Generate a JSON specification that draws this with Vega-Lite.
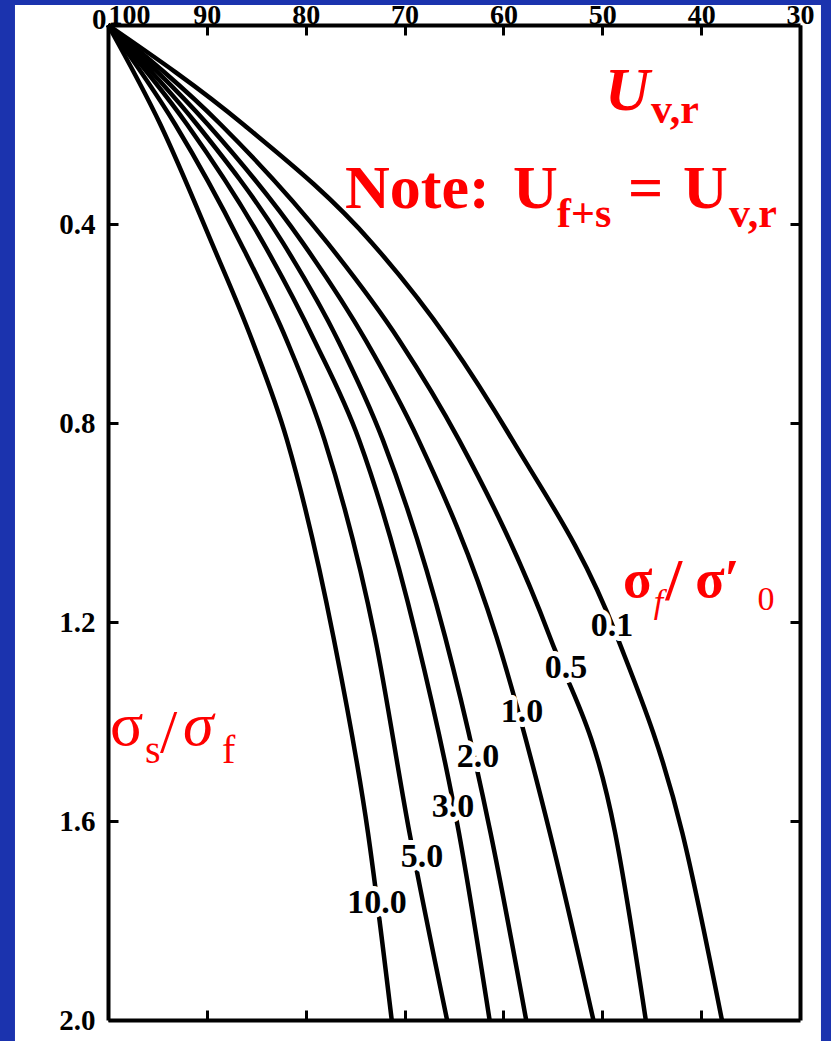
{
  "$schema": "https://vega.github.io/schema/vega-lite/v6.json",
  "width": 692,
  "height": 995,
  "autosize": {"type": "none"},
  "padding": {"left": 108, "top": 25, "right": 31, "bottom": 21},
  "background": "#1B33AE",
  "config": {
    "view": {"stroke": null},
    "text": {"font": "Liberation Serif"},
    "axis": {
      "labelFont": "Liberation Serif",
      "labelFontWeight": "bold",
      "labelColor": "black",
      "domainColor": "black",
      "domainWidth": 4,
      "tickColor": "black",
      "tickWidth": 3,
      "tickSize": -10,
      "grid": false,
      "labelFlush": false,
      "labelOverlap": false
    }
  },
  "data": {"values": [{}]},
  "datasets": {
    "curves": [
      {"curve": "10.0", "r": 0, "u": 100}, {"curve": "10.0", "r": 0.2, "u": 94.7}, {"curve": "10.0", "r": 0.438, "u": 89.5}, {"curve": "10.0", "r": 0.635, "u": 85.4}, {"curve": "10.0", "r": 0.834, "u": 81.9}, {"curve": "10.0", "r": 1.23, "u": 77.2}, {"curve": "10.0", "r": 1.624, "u": 73.7}, {"curve": "10.0", "r": 2.0, "u": 71.3},
      {"curve": "5.0", "r": 0, "u": 100}, {"curve": "5.0", "r": 0.2, "u": 93.2}, {"curve": "5.0", "r": 0.438, "u": 86.6}, {"curve": "5.0", "r": 0.635, "u": 81.9}, {"curve": "5.0", "r": 0.834, "u": 78.1}, {"curve": "5.0", "r": 1.23, "u": 73.0}, {"curve": "5.0", "r": 1.624, "u": 69.5}, {"curve": "5.0", "r": 2.0, "u": 65.7},
      {"curve": "3.0", "r": 0, "u": 100}, {"curve": "3.0", "r": 0.2, "u": 92.0}, {"curve": "3.0", "r": 0.438, "u": 84.3}, {"curve": "3.0", "r": 0.635, "u": 79.1}, {"curve": "3.0", "r": 0.834, "u": 74.6}, {"curve": "3.0", "r": 1.23, "u": 68.8}, {"curve": "3.0", "r": 1.624, "u": 64.5}, {"curve": "3.0", "r": 2.0, "u": 61.4},
      {"curve": "2.0", "r": 0, "u": 100}, {"curve": "2.0", "r": 0.2, "u": 91.0}, {"curve": "2.0", "r": 0.438, "u": 82.3}, {"curve": "2.0", "r": 0.635, "u": 76.7}, {"curve": "2.0", "r": 0.834, "u": 72.2}, {"curve": "2.0", "r": 1.23, "u": 65.9}, {"curve": "2.0", "r": 1.624, "u": 61.3}, {"curve": "2.0", "r": 2.0, "u": 57.7},
      {"curve": "1.0", "r": 0, "u": 100}, {"curve": "1.0", "r": 0.2, "u": 89.9}, {"curve": "1.0", "r": 0.438, "u": 80.3}, {"curve": "1.0", "r": 0.635, "u": 73.9}, {"curve": "1.0", "r": 0.834, "u": 68.6}, {"curve": "1.0", "r": 1.23, "u": 60.7}, {"curve": "1.0", "r": 1.624, "u": 55.3}, {"curve": "1.0", "r": 2.0, "u": 50.9},
      {"curve": "0.5", "r": 0, "u": 100}, {"curve": "0.5", "r": 0.2, "u": 88.6}, {"curve": "0.5", "r": 0.438, "u": 77.8}, {"curve": "0.5", "r": 0.635, "u": 70.5}, {"curve": "0.5", "r": 0.834, "u": 64.5}, {"curve": "0.5", "r": 1.23, "u": 55.3}, {"curve": "0.5", "r": 1.624, "u": 48.7}, {"curve": "0.5", "r": 2.0, "u": 45.6},
      {"curve": "0.1", "r": 0, "u": 100}, {"curve": "0.1", "r": 0.2, "u": 86.3}, {"curve": "0.1", "r": 0.438, "u": 73.3}, {"curve": "0.1", "r": 0.635, "u": 65.5}, {"curve": "0.1", "r": 0.834, "u": 59.1}, {"curve": "0.1", "r": 1.23, "u": 48.5}, {"curve": "0.1", "r": 1.624, "u": 41.9}, {"curve": "0.1", "r": 2.0, "u": 37.9}
    ],
    "labels": [
      {"curve": "0.1", "u": 49.02, "r": 1.208},
      {"curve": "0.5", "u": 53.67, "r": 1.292},
      {"curve": "1.0", "u": 58.12, "r": 1.381},
      {"curve": "2.0", "u": 62.57, "r": 1.471},
      {"curve": "3.0", "u": 65.1, "r": 1.572},
      {"curve": "5.0", "u": 68.24, "r": 1.672},
      {"curve": "10.0", "u": 72.79, "r": 1.765}
    ]
  },
  "layer": [
    {
      "mark": {"type": "rect", "color": "white"},
      "encoding": {
        "x": {"datum": 109.41, "type": "quantitative", "axis": null},
        "x2": {"datum": 27.88},
        "y": {"datum": -0.0402, "type": "quantitative", "axis": null},
        "y2": {"datum": 2.06}
      }
    },
    {
      "data": {"name": "curves"},
      "mark": {"type": "line", "color": "black", "strokeWidth": 4.5, "interpolate": "monotone"},
      "encoding": {
        "x": {
          "field": "u", "type": "quantitative",
          "scale": {"domain": [30, 100], "reverse": true, "nice": false, "zero": false},
          "axis": {
            "orient": "top", "zindex": 2, "values": [100, 90, 80, 70, 60, 50, 40, 30], "format": "d",
            "labelFontSize": 28, "labelBaseline": "alphabetic", "labelPadding": 12, "title": null,
            "labelAlign": {"condition": {"test": "datum.value === 100", "value": "left"}, "value": "center"}
          }
        },
        "y": {
          "field": "r", "type": "quantitative",
          "scale": {"domain": [0, 2], "reverse": true, "nice": false, "zero": false},
          "axis": {
            "orient": "left", "zindex": 2, "values": [0, 0.4, 0.8, 1.2, 1.6, 2],
            "labelExpr": "datum.value == 0 ? '0' : format(datum.value, '.1f')",
            "labelFontSize": 29, "title": null,
            "labelPadding": {"condition": {"test": "datum.value === 0", "value": 12}, "value": 23},
            "labelOffset": {"condition": {"test": "datum.value === 0", "value": -6}, "value": 0}
          }
        },
        "detail": {"field": "curve"},
        "order": {"field": "r", "type": "quantitative"}
      }
    },
    {
      "data": {"name": "labels"},
      "mark": {"type": "text", "font": "Liberation Serif", "fontWeight": "bold", "fontSize": 34, "fill": "white", "stroke": "white", "strokeWidth": 10, "strokeJoin": "round"},
      "encoding": {
        "x": {"field": "u", "type": "quantitative", "axis": {"orient": "bottom", "zindex": 2, "values": [90, 80, 70, 60, 50, 40], "labels": false, "title": null}},
        "y": {"field": "r", "type": "quantitative", "axis": {"orient": "right", "zindex": 2, "values": [0.4, 0.8, 1.2, 1.6], "labels": false, "title": null}},
        "text": {"field": "curve"}
      }
    },
    {
      "data": {"name": "labels"},
      "mark": {"type": "text", "font": "Liberation Serif", "fontWeight": "bold", "fontSize": 34, "color": "black"},
      "encoding": {
        "x": {"field": "u", "type": "quantitative", "axis": null},
        "y": {"field": "r", "type": "quantitative", "axis": null},
        "text": {"field": "curve"}
      }
    },
    {
      "mark": {"type": "text", "text": "U", "fontWeight": "bold", "fontStyle": "italic", "fontSize": 62, "color": "#FF0000", "align": "left", "baseline": "alphabetic"},
      "encoding": {"x": {"datum": 49.73, "type": "quantitative", "axis": null}, "y": {"datum": 0.1709, "type": "quantitative", "axis": null}}
    },
    {
      "mark": {"type": "text", "text": "v,r", "fontWeight": "bold", "fontSize": 42, "color": "#FF0000", "align": "left", "baseline": "alphabetic"},
      "encoding": {"x": {"datum": 45.07, "type": "quantitative", "axis": null}, "y": {"datum": 0.197, "type": "quantitative", "axis": null}}
    },
    {
      "mark": {"type": "text", "text": "Note:", "fontWeight": "bold", "fontSize": 62, "color": "#FF0000", "align": "left", "baseline": "alphabetic"},
      "encoding": {"x": {"datum": 76.03, "type": "quantitative", "axis": null}, "y": {"datum": 0.3678, "type": "quantitative", "axis": null}}
    },
    {
      "mark": {"type": "text", "text": "U", "fontWeight": "bold", "fontSize": 62, "color": "#FF0000", "align": "left", "baseline": "alphabetic"},
      "encoding": {"x": {"datum": 59.03, "type": "quantitative", "axis": null}, "y": {"datum": 0.3678, "type": "quantitative", "axis": null}}
    },
    {
      "mark": {"type": "text", "text": "f+s", "fontWeight": "bold", "fontSize": 42, "color": "#FF0000", "align": "left", "baseline": "alphabetic"},
      "encoding": {"x": {"datum": 54.58, "type": "quantitative", "axis": null}, "y": {"datum": 0.406, "type": "quantitative", "axis": null}}
    },
    {
      "mark": {"type": "text", "text": "=", "fontWeight": "bold", "fontSize": 62, "color": "#FF0000", "align": "left", "baseline": "alphabetic"},
      "encoding": {"x": {"datum": 47.4, "type": "quantitative", "axis": null}, "y": {"datum": 0.3678, "type": "quantitative", "axis": null}}
    },
    {
      "mark": {"type": "text", "text": "U", "fontWeight": "bold", "fontSize": 62, "color": "#FF0000", "align": "left", "baseline": "alphabetic"},
      "encoding": {"x": {"datum": 41.84, "type": "quantitative", "axis": null}, "y": {"datum": 0.3678, "type": "quantitative", "axis": null}}
    },
    {
      "mark": {"type": "text", "text": "v,r", "fontWeight": "bold", "fontSize": 42, "color": "#FF0000", "align": "left", "baseline": "alphabetic"},
      "encoding": {"x": {"datum": 37.18, "type": "quantitative", "axis": null}, "y": {"datum": 0.406, "type": "quantitative", "axis": null}}
    },
    {
      "mark": {"type": "text", "text": "σ", "fontWeight": "bold", "fontSize": 54, "color": "#FF0000", "align": "left", "baseline": "alphabetic"},
      "encoding": {"x": {"datum": 47.91, "type": "quantitative", "axis": null}, "y": {"datum": 1.1497, "type": "quantitative", "axis": null}}
    },
    {
      "mark": {"type": "text", "text": "f", "fontStyle": "italic", "fontSize": 34, "color": "#FF0000", "align": "left", "baseline": "alphabetic"},
      "encoding": {"x": {"datum": 44.8, "type": "quantitative", "axis": null}, "y": {"datum": 1.1819, "type": "quantitative", "axis": null}}
    },
    {
      "mark": {"type": "text", "text": "/", "fontWeight": "bold", "fontSize": 60, "color": "#FF0000", "align": "left", "baseline": "alphabetic"},
      "encoding": {"x": {"datum": 43.6, "type": "quantitative", "axis": null}, "y": {"datum": 1.1558, "type": "quantitative", "axis": null}}
    },
    {
      "mark": {"type": "text", "text": "σ′", "fontWeight": "bold", "fontSize": 54, "color": "#FF0000", "align": "left", "baseline": "alphabetic"},
      "encoding": {"x": {"datum": 40.6, "type": "quantitative", "axis": null}, "y": {"datum": 1.1497, "type": "quantitative", "axis": null}}
    },
    {
      "mark": {"type": "text", "text": "0", "fontSize": 34, "color": "#FF0000", "align": "left", "baseline": "alphabetic"},
      "encoding": {"x": {"datum": 34.3, "type": "quantitative", "axis": null}, "y": {"datum": 1.1759, "type": "quantitative", "axis": null}}
    },
    {
      "mark": {"type": "text", "text": "σ", "fontSize": 62, "color": "#FF0000", "align": "left", "baseline": "alphabetic"},
      "encoding": {"x": {"datum": 99.8, "type": "quantitative", "axis": null}, "y": {"datum": 1.4472, "type": "quantitative", "axis": null}}
    },
    {
      "mark": {"type": "text", "text": "s", "fontSize": 40, "color": "#FF0000", "align": "left", "baseline": "alphabetic"},
      "encoding": {"x": {"datum": 96.26, "type": "quantitative", "axis": null}, "y": {"datum": 1.4834, "type": "quantitative", "axis": null}}
    },
    {
      "mark": {"type": "text", "text": "/", "fontSize": 62, "color": "#FF0000", "align": "left", "baseline": "alphabetic"},
      "encoding": {"x": {"datum": 94.74, "type": "quantitative", "axis": null}, "y": {"datum": 1.4613, "type": "quantitative", "axis": null}}
    },
    {
      "mark": {"type": "text", "text": "σ", "fontStyle": "italic", "fontSize": 62, "color": "#FF0000", "align": "left", "baseline": "alphabetic"},
      "encoding": {"x": {"datum": 92.41, "type": "quantitative", "axis": null}, "y": {"datum": 1.4472, "type": "quantitative", "axis": null}}
    },
    {
      "mark": {"type": "text", "text": "f", "fontSize": 40, "color": "#FF0000", "align": "left", "baseline": "alphabetic"},
      "encoding": {"x": {"datum": 88.47, "type": "quantitative", "axis": null}, "y": {"datum": 1.4834, "type": "quantitative", "axis": null}}
    }
  ]
}
